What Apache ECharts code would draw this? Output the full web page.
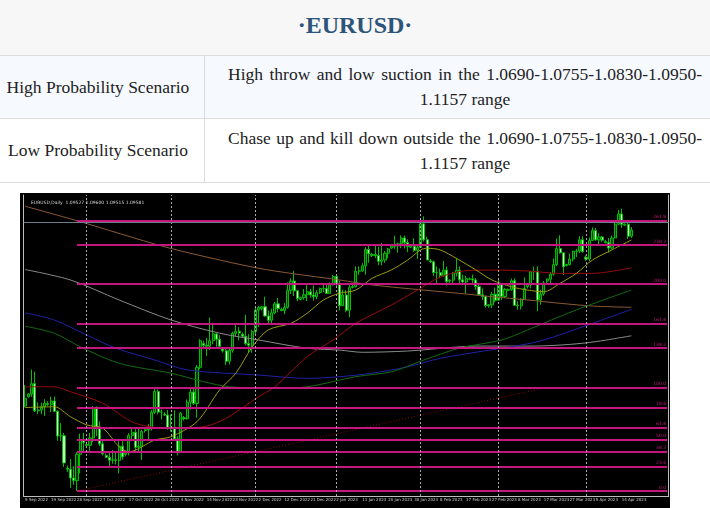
<!DOCTYPE html>
<html><head><meta charset="utf-8">
<script src="https://cdn.jsdelivr.net/npm/echarts/dist/echarts.min.js"></script>
<style>
html,body{margin:0;padding:0;background:#fff;}
body{width:710px;height:508px;position:relative;overflow:hidden;font-family:"Liberation Serif","Times New Roman",serif;}
#title{position:absolute;left:0;top:0;width:710px;height:55px;background:#f7f7f7;border-bottom:1px solid #dcdcdc;}
#title div{position:absolute;left:0;top:10px;width:710px;text-align:center;font-size:24px;font-weight:bold;color:#2d5479;line-height:30px;}
.row{position:absolute;left:0;width:710px;border-bottom:1px solid #dcdcdc;box-sizing:border-box;}
.lc{position:absolute;left:0;top:0;bottom:0;width:205px;border-right:1px solid #dcdcdc;display:flex;align-items:center;justify-content:center;font-size:17.5px;color:#222;padding-right:8px;box-sizing:border-box;}
.rc{position:absolute;left:206px;top:0;bottom:0;width:504px;box-sizing:border-box;padding:0 8px 0 22px;display:flex;align-items:center;font-size:17.5px;color:#222;}
.rc p{margin:0;width:100%;line-height:25px;text-align:justify;text-align-last:center;}
#chart{position:absolute;left:20px;top:193px;width:650px;height:315px;}
</style></head>
<body>
<div id="title"><div>·EURUSD·</div></div>
<div class="row" style="top:56px;height:63px;background:#f6f9fe;">
  <div class="lc">High Probability Scenario</div>
  <div class="rc"><p>High throw and low suction in the 1.0690-1.0755-1.0830-1.0950-1.1157 range</p></div>
</div>
<div class="row" style="top:119px;height:64px;background:#ffffff;">
  <div class="lc">Low Probability Scenario</div>
  <div class="rc"><p>Chase up and kill down outside the 1.0690-1.0755-1.0830-1.0950-1.1157 range</p></div>
</div>
<div id="chart"></div>
<script>
const dates = [
'9 Sep 2022','11 Sep 2022','12 Sep 2022','13 Sep 2022','14 Sep 2022','15 Sep 2022','16 Sep 2022',
'18 Sep 2022','19 Sep 2022','20 Sep 2022','21 Sep 2022','22 Sep 2022','23 Sep 2022',
'25 Sep 2022','26 Sep 2022','27 Sep 2022','28 Sep 2022','29 Sep 2022','30 Sep 2022',
'2 Oct 2022','3 Oct 2022','4 Oct 2022','5 Oct 2022','6 Oct 2022','7 Oct 2022',
'9 Oct 2022','10 Oct 2022','11 Oct 2022','12 Oct 2022','13 Oct 2022','14 Oct 2022',
'16 Oct 2022','17 Oct 2022','18 Oct 2022','19 Oct 2022','20 Oct 2022','21 Oct 2022',
'23 Oct 2022','24 Oct 2022','25 Oct 2022','26 Oct 2022','27 Oct 2022','28 Oct 2022',
'30 Oct 2022','31 Oct 2022','1 Nov 2022','2 Nov 2022','3 Nov 2022','4 Nov 2022',
'6 Nov 2022','7 Nov 2022','8 Nov 2022','9 Nov 2022','10 Nov 2022','11 Nov 2022',
'13 Nov 2022','14 Nov 2022','15 Nov 2022','16 Nov 2022','17 Nov 2022','18 Nov 2022',
'20 Nov 2022','21 Nov 2022','22 Nov 2022','23 Nov 2022','24 Nov 2022','25 Nov 2022',
'27 Nov 2022','28 Nov 2022','29 Nov 2022','30 Nov 2022','1 Dec 2022','2 Dec 2022',
'4 Dec 2022','5 Dec 2022','6 Dec 2022','7 Dec 2022','8 Dec 2022','9 Dec 2022',
'11 Dec 2022','12 Dec 2022','13 Dec 2022','14 Dec 2022','15 Dec 2022','16 Dec 2022',
'18 Dec 2022','19 Dec 2022','20 Dec 2022','21 Dec 2022','22 Dec 2022','23 Dec 2022',
'26 Dec 2022','27 Dec 2022','28 Dec 2022','29 Dec 2022','30 Dec 2022',
'2 Jan 2023','3 Jan 2023','4 Jan 2023','5 Jan 2023','6 Jan 2023',
'8 Jan 2023','9 Jan 2023','10 Jan 2023','11 Jan 2023','12 Jan 2023','13 Jan 2023',
'15 Jan 2023','16 Jan 2023','17 Jan 2023','18 Jan 2023','19 Jan 2023','20 Jan 2023',
'22 Jan 2023','23 Jan 2023','24 Jan 2023','25 Jan 2023','26 Jan 2023','27 Jan 2023',
'29 Jan 2023','30 Jan 2023','31 Jan 2023','1 Feb 2023','2 Feb 2023','3 Feb 2023',
'5 Feb 2023','6 Feb 2023','7 Feb 2023','8 Feb 2023','9 Feb 2023','10 Feb 2023',
'12 Feb 2023','13 Feb 2023','14 Feb 2023','15 Feb 2023','16 Feb 2023','17 Feb 2023',
'19 Feb 2023','20 Feb 2023','21 Feb 2023','22 Feb 2023','23 Feb 2023','24 Feb 2023',
'26 Feb 2023','27 Feb 2023','28 Feb 2023','1 Mar 2023','2 Mar 2023','3 Mar 2023',
'5 Mar 2023','6 Mar 2023','7 Mar 2023','8 Mar 2023','9 Mar 2023','10 Mar 2023',
'12 Mar 2023','13 Mar 2023','14 Mar 2023','15 Mar 2023','16 Mar 2023','17 Mar 2023',
'19 Mar 2023','20 Mar 2023','21 Mar 2023','22 Mar 2023','23 Mar 2023','24 Mar 2023',
'26 Mar 2023','27 Mar 2023','28 Mar 2023','29 Mar 2023','30 Mar 2023','31 Mar 2023',
'2 Apr 2023','3 Apr 2023','4 Apr 2023','5 Apr 2023','6 Apr 2023','7 Apr 2023',
'9 Apr 2023','10 Apr 2023','11 Apr 2023','12 Apr 2023','13 Apr 2023','14 Apr 2023',
'16 Apr 2023','17 Apr 2023','18 Apr 2023'];

const open = [
0.9999,1.0050,1.0065,1.0121,0.9973,0.9978,0.9995,
1.0012,1.0008,1.0026,0.9970,0.9836,0.9837,
0.9660,0.9655,0.9607,0.9593,0.9736,0.9816,
0.9790,0.9785,0.9825,0.9985,0.9884,0.9793,
0.9730,0.9720,0.9704,0.9706,0.9703,0.9780,
0.9735,0.9745,0.9838,0.9856,0.9774,0.9780,
0.9865,0.9870,0.9878,0.9965,1.0078,0.9966,
0.9955,0.9950,0.9881,0.9877,0.9820,0.9750,
0.9935,0.9930,1.0020,1.0075,1.0013,1.0210,
1.0340,1.0330,1.0325,1.0355,1.0392,1.0363,
1.0310,1.0300,1.0243,1.0303,1.0395,1.0407,
1.0390,1.0380,1.0340,1.0330,1.0405,1.0522,
1.0530,1.0540,1.0490,1.0467,1.0507,1.0556,
1.0525,1.0520,1.0537,1.0630,1.0680,1.0627,
1.0580,1.0590,1.0606,1.0622,1.0604,1.0595,
1.0617,1.0640,1.0640,1.0613,1.0660,
1.0705,1.0666,1.0546,1.0604,1.0521,
1.0645,1.0650,1.0734,1.0736,1.0763,1.0852,
1.0820,1.0825,1.0820,1.0788,1.0795,1.0832,
1.0860,1.0870,1.0872,1.0883,1.0915,1.0890,
1.0865,1.0870,1.0847,1.0863,1.0992,1.0905,
1.0790,1.0785,1.0727,1.0726,1.0711,1.0740,
1.0680,1.0685,1.0723,1.0739,1.0687,1.0675,
1.0690,1.0692,1.0686,1.0651,1.0606,1.0596,
1.0545,1.0550,1.0608,1.0576,1.0665,1.0596,
1.0630,1.0635,1.0682,1.0548,1.0545,1.0581,
1.0650,1.0660,1.0732,1.0731,1.0577,1.0610,
1.0680,1.0690,1.0718,1.0770,1.0857,1.0834,
1.0765,1.0770,1.0800,1.0843,1.0844,1.0905,
1.0810,1.0800,1.0902,1.0955,1.0905,1.0920,
1.0895,1.0890,1.0860,1.0915,1.0990,1.1046,
1.0985,1.0990,1.0925];

const high = [
1.0113,1.0070,1.0198,1.0187,1.0020,1.0017,1.0036,
1.0025,1.0050,1.0051,0.9976,0.9906,0.9853,
0.9675,0.9710,0.9671,0.9749,0.9849,0.9853,
0.9805,0.9852,0.9999,0.9998,0.9915,0.9815,
0.9740,0.9745,0.9759,0.9750,0.9807,0.9808,
0.9750,0.9851,0.9875,0.9873,0.9875,0.9870,
0.9880,0.9900,0.9977,1.0094,1.0090,0.9980,
0.9965,0.9977,0.9954,0.9976,0.9835,0.9967,
0.9945,1.0035,1.0094,1.0092,1.0223,1.0365,
1.0355,1.0370,1.0481,1.0443,1.0395,1.0385,
1.0320,1.0312,1.0310,1.0405,1.0448,1.0430,
1.0400,1.0497,1.0390,1.0415,1.0533,1.0545,
1.0545,1.0595,1.0519,1.0530,1.0566,1.0588,
1.0535,1.0560,1.0673,1.0695,1.0736,1.0630,
1.0595,1.0637,1.0658,1.0638,1.0657,1.0630,
1.0645,1.0668,1.0670,1.0673,1.0714,
1.0710,1.0683,1.0633,1.0630,1.0659,
1.0660,1.0760,1.0760,1.0777,1.0865,1.0874,
1.0835,1.0875,1.0868,1.0888,1.0844,1.0860,
1.0875,1.0927,1.0890,1.0929,1.0928,1.0908,
1.0875,1.0914,1.0873,1.1000,1.1033,1.0922,
1.0800,1.0792,1.0760,1.0749,1.0790,1.0760,
1.0690,1.0730,1.0805,1.0760,1.0714,1.0710,
1.0700,1.0715,1.0697,1.0668,1.0640,1.0600,
1.0555,1.0621,1.0645,1.0691,1.0669,1.0643,
1.0640,1.0694,1.0695,1.0570,1.0587,1.0700,
1.0670,1.0736,1.0759,1.0760,1.0632,1.0680,
1.0695,1.0730,1.0803,1.0912,1.0930,1.0838,
1.0775,1.0830,1.0845,1.0856,1.0925,1.0925,
1.0820,1.0917,1.0973,1.0970,1.0941,1.0926,
1.0905,1.0915,1.0928,1.1000,1.1068,1.1075,
1.0995,1.0998,1.0974];

const low = [
0.9992,1.0045,1.0050,0.9966,0.9955,0.9955,0.9945,
1.0000,0.9966,0.9970,0.9810,0.9808,0.9667,
0.9640,0.9554,0.9570,0.9536,0.9632,0.9749,
0.9770,0.9752,0.9802,0.9836,0.9780,0.9730,
0.9715,0.9670,0.9685,0.9680,0.9632,0.9707,
0.9725,0.9730,0.9808,0.9757,0.9750,0.9705,
0.9855,0.9810,0.9865,0.9955,0.9953,0.9926,
0.9945,0.9870,0.9860,0.9810,0.9730,0.9745,
0.9920,0.9925,0.9980,1.0005,0.9935,1.0200,
1.0320,1.0272,1.0305,1.0335,1.0322,1.0322,
1.0290,1.0223,1.0226,1.0290,1.0380,1.0357,
1.0370,1.0330,1.0290,1.0289,1.0390,1.0430,
1.0520,1.0485,1.0443,1.0440,1.0500,1.0510,
1.0515,1.0500,1.0530,1.0610,1.0599,1.0570,
1.0575,1.0578,1.0571,1.0590,1.0574,1.0580,
1.0610,1.0620,1.0610,1.0610,1.0657,
1.0654,1.0520,1.0545,1.0510,1.0483,
1.0640,1.0645,1.0713,1.0730,1.0715,1.0780,
1.0810,1.0805,1.0767,1.0766,1.0780,1.0805,
1.0855,1.0855,1.0835,1.0860,1.0858,1.0838,
1.0860,1.0840,1.0800,1.0860,1.0895,1.0795,
1.0780,1.0708,1.0670,1.0696,1.0705,1.0656,
1.0670,1.0668,1.0705,1.0660,1.0660,1.0613,
1.0685,1.0670,1.0632,1.0603,1.0577,1.0536,
1.0535,1.0533,1.0565,1.0578,1.0578,1.0588,
1.0625,1.0627,1.0547,1.0524,1.0525,1.0577,
1.0640,1.0640,1.0686,1.0516,1.0551,1.0600,
1.0670,1.0660,1.0710,1.0762,1.0830,1.0713,
1.0760,1.0765,1.0787,1.0811,1.0833,1.0835,
1.0790,1.0788,1.0898,1.0900,1.0880,1.0894,
1.0885,1.0835,1.0855,1.0915,1.0985,1.0970,
1.0980,1.0910,1.0915];

const close = [
1.0041,1.0065,1.0121,0.9973,0.9978,0.9995,1.0014,
1.0008,1.0026,0.9970,0.9836,0.9837,0.9689,
0.9655,0.9607,0.9593,0.9736,0.9816,0.9801,
0.9785,0.9825,0.9985,0.9884,0.9793,0.9739,
0.9720,0.9704,0.9706,0.9703,0.9780,0.9722,
0.9745,0.9838,0.9856,0.9774,0.9780,0.9860,
0.9870,0.9878,0.9965,1.0078,0.9966,0.9966,
0.9950,0.9881,0.9877,0.9820,0.9750,0.9960,
0.9930,1.0020,1.0075,1.0013,1.0210,1.0355,
1.0330,1.0325,1.0355,1.0392,1.0363,1.0325,
1.0300,1.0243,1.0303,1.0395,1.0407,1.0397,
1.0380,1.0340,1.0330,1.0405,1.0522,1.0536,
1.0540,1.0490,1.0467,1.0507,1.0556,1.0530,
1.0520,1.0537,1.0630,1.0680,1.0627,1.0585,
1.0590,1.0606,1.0622,1.0604,1.0595,1.0617,
1.0640,1.0640,1.0613,1.0660,1.0705,
1.0666,1.0546,1.0604,1.0521,1.0644,
1.0650,1.0734,1.0736,1.0763,1.0852,1.0829,
1.0825,1.0820,1.0788,1.0795,1.0832,1.0855,
1.0870,1.0872,1.0883,1.0915,1.0890,1.0868,
1.0870,1.0847,1.0863,1.0992,1.0905,1.0795,
1.0785,1.0727,1.0726,1.0711,1.0740,1.0678,
1.0685,1.0723,1.0739,1.0687,1.0675,1.0694,
1.0692,1.0686,1.0651,1.0606,1.0596,1.0547,
1.0550,1.0608,1.0576,1.0665,1.0596,1.0634,
1.0635,1.0682,1.0548,1.0545,1.0581,1.0640,
1.0660,1.0732,1.0731,1.0577,1.0610,1.0670,
1.0690,1.0718,1.0770,1.0857,1.0834,1.0758,
1.0770,1.0800,1.0843,1.0844,1.0905,1.0840,
1.0800,1.0902,1.0955,1.0905,1.0920,1.0903,
1.0890,1.0860,1.0915,1.0990,1.1046,1.0990,
1.0990,1.0925,1.0958];

// moving averages: [bar index, price]
const maOlive = [[0,0.9991],[9,0.9995],[14,0.9941],[19,0.9896],[24,0.9878],[29,0.9777],[32,0.9750],[40,0.9814],[45,0.9832],[53,0.9914],[60,1.0087],[65,1.0178],[70,1.0320],[75,1.0414],[82,1.0450],[87,1.0505],[92,1.0577],[97,1.0614],[102,1.0631],[107,1.0695],[113,1.0741],[118,1.0795],[122,1.0850],[124,1.0859],[128,1.0850],[133,1.0804],[139,1.0741],[144,1.0686],[150,1.0649],[155,1.0631],[160,1.0622],[165,1.0668],[170,1.0722],[175,1.0795],[181,1.0850],[187,1.0904]];
const maRed = [[0,1.0104],[9,1.0104],[14,1.0077],[24,1.0014],[34,0.9905],[45,0.9878],[55,0.9886],[62,0.9932],[72,1.0050],[77,1.0104],[87,1.0268],[95,1.0359],[102,1.0450],[113,1.0550],[121,1.0631],[128,1.0701],[136,1.0737],[144,1.0740],[155,1.0735],[165,1.0722],[175,1.0722],[187,1.0753]];
const maBrown = [[0,1.1088],[16,1.1009],[43,1.0867],[60,1.0795],[72,1.0750],[82,1.0722],[97,1.0686],[107,1.0659],[123,1.0631],[134,1.0613],[144,1.0595],[155,1.0577],[165,1.0559],[175,1.0544],[187,1.0537]];
const maGrey = [[0,1.0743],[14,1.0686],[29,1.0577],[45,1.0468],[60,1.0396],[72,1.0359],[87,1.0314],[97,1.0304],[104,1.0292],[118,1.0299],[140,1.0326],[157,1.0326],[168,1.0335],[176,1.0350],[187,1.0382]];
const maBlue = [[0,1.0507],[9,1.0468],[19,1.0386],[28,1.0314],[40,1.0250],[50,1.0196],[72,1.0168],[87,1.0150],[97,1.0159],[107,1.0178],[118,1.0213],[128,1.0259],[140,1.0295],[147,1.0314],[159,1.0354],[175,1.0450],[187,1.0526]];
const maGreen = [[0,1.0434],[9,1.0396],[17,1.0322],[29,1.0232],[45,1.0178],[55,1.0132],[63,1.0104],[77,1.0097],[87,1.0104],[102,1.0159],[113,1.0186],[123,1.0250],[134,1.0315],[147,1.0359],[155,1.0414],[170,1.0523],[187,1.0631]];
const trendLine = [[16,0.9536],[160,1.0097]];

// Fibonacci levels
const fibLabels = ['0.0','23.6','38.2','50.0','61.8','78.6','100.0','138.2','161.8','200.0','238.2','261.8'];
const fibPrices = [0.9536,0.9668,0.9750,0.9818,0.9881,0.9990,1.0099,1.0315,1.0448,1.0663,1.0877,1.1009];
const fibStart = '28 Sep 2022';
const lastPrice = 1.09581;
const monthStarts = ['2 Oct 2022','1 Nov 2022','1 Dec 2022','2 Jan 2023','1 Feb 2023','1 Mar 2023','2 Apr 2023'];
const headerText = 'EURUSD,Daily  1.09527 1.09600 1.09515 1.09581';

const futurePad = 11;
const cats = dates.concat(new Array(futurePad).fill(''));
const lastIdx = cats.length - 1;
const candles = dates.map((d, i) => [open[i], close[i], low[i], high[i]]);

const chart = echarts.init(document.getElementById('chart'), null, {renderer: 'canvas'});
const yMin = 0.95088, yMax = 1.11492;
function maSeries(data, color, extra) {
  return Object.assign({
    type: 'line', data: data, symbol: 'none', smooth: 0.3, z: 4, silent: true,
    lineStyle: {color: color, width: 1}
  }, extra || {});
}
chart.setOption({
  backgroundColor: '#000000',
  animation: false,
  title: {text: headerText, left: 6, top: 2,
    textStyle: {color: '#d8d8d8', fontSize: 4.5, fontWeight: 'normal', fontFamily: 'DejaVu Sans'}},
  grid: {left: 3.5, right: 1.3, top: 2, bottom: 12},
  xAxis: {
    type: 'category', data: cats, boundaryGap: true,
    axisLine: {lineStyle: {color: '#bdbdbd', width: 1}},
    axisTick: {interval: 7, alignWithLabel: true, length: 2, lineStyle: {color: '#bdbdbd'}},
    axisLabel: {interval: 7, align: 'left', margin: 2, fontSize: 4, color: '#cfcfcf', fontFamily: 'DejaVu Sans'},
    splitLine: {show: false}
  },
  yAxis: [
    {type: 'value', min: yMin, max: yMax, position: 'right',
     axisLine: {show: true, lineStyle: {color: '#bdbdbd'}}, axisLabel: {show: false}, axisTick: {show: false}, splitLine: {show: false}},
    {type: 'value', min: yMin, max: yMax, position: 'left',
     axisLine: {show: true, lineStyle: {color: '#bdbdbd'}}, axisLabel: {show: false}, axisTick: {show: false}, splitLine: {show: false}}
  ],
  series: [
    {
      type: 'line', data: [], z: 1, silent: true,
      markLine: {
        symbol: 'none', silent: true, animation: false,
        data: fibPrices.map((p, k) => [
          {coord: [fibStart, p], lineStyle: {color: '#c3177d', width: 2, type: 'solid'},
           label: {show: true, position: 'insideEndTop', formatter: fibLabels[k], color: '#c3177d', fontSize: 4.5, distance: 1, fontFamily: 'DejaVu Sans'}},
          {coord: [lastIdx, p]}
        ]).concat(
          monthStarts.map(m => ({xAxis: m, lineStyle: {color: '#aaaaaa', width: 1, type: [2, 2]}, label: {show: false}}))
        ).concat([
          {yAxis: lastPrice, lineStyle: {color: '#6f7f8f', width: 1, type: 'solid'}, label: {show: false}}
        ])
      }
    },
    {
      type: 'candlestick', data: candles, z: 3, barWidth: 2.6, silent: true,
      itemStyle: {color: '#0b3d0b', color0: '#d4ffd4', borderColor: '#00c000', borderColor0: '#00c000', borderWidth: 1}
    },
    maSeries(maBrown, '#8a5a36'),
    maSeries(maGrey, '#8a8a8a'),
    maSeries(maBlue, '#2020a8'),
    maSeries(maGreen, '#136a13'),
    maSeries(maRed, '#9a0a0a'),
    maSeries(maOlive, '#9c9c10'),
    maSeries(trendLine, '#8b0a0a', {smooth: false, lineStyle: {color: '#8b0a0a', width: 1, type: [1, 2]}})
  ]
});
</script>
</body></html>
